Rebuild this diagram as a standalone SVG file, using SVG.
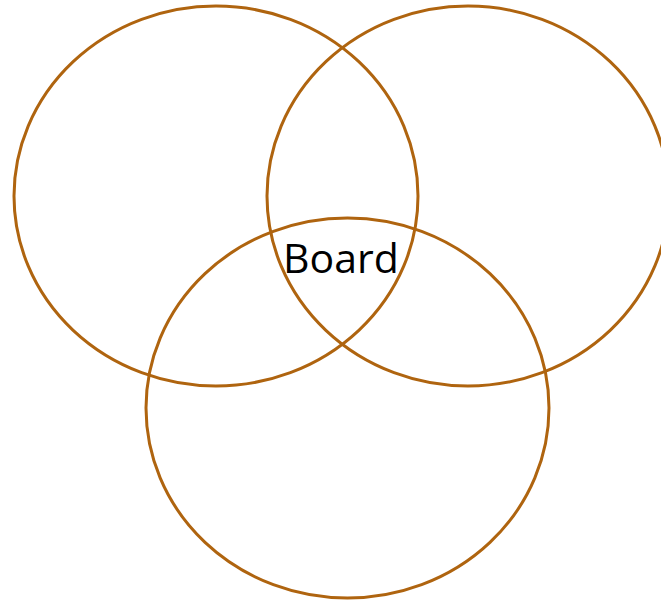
<svg xmlns="http://www.w3.org/2000/svg" width="661" height="600" viewBox="0 0 661 600">
<style>
.c{fill:none;stroke:#AF640F;stroke-width:3}
.t{font-family:"Open Sans","Liberation Sans",sans-serif;font-size:41px;fill:#000}
</style>
<rect width="661" height="600" fill="#fff"/>
<g id="circle-left"><ellipse class="c" cx="216" cy="196" rx="202" ry="190"/></g>
<g id="circle-right"><ellipse class="c" cx="468" cy="196" rx="201" ry="190"/></g>
<g id="circle-bottom"><ellipse class="c" cx="347.5" cy="408" rx="201.5" ry="190"/></g>
<g id="label-board"><text class="t" x="341" y="273" text-anchor="middle">Board</text></g>
<g id="connectors"></g>
</svg>
